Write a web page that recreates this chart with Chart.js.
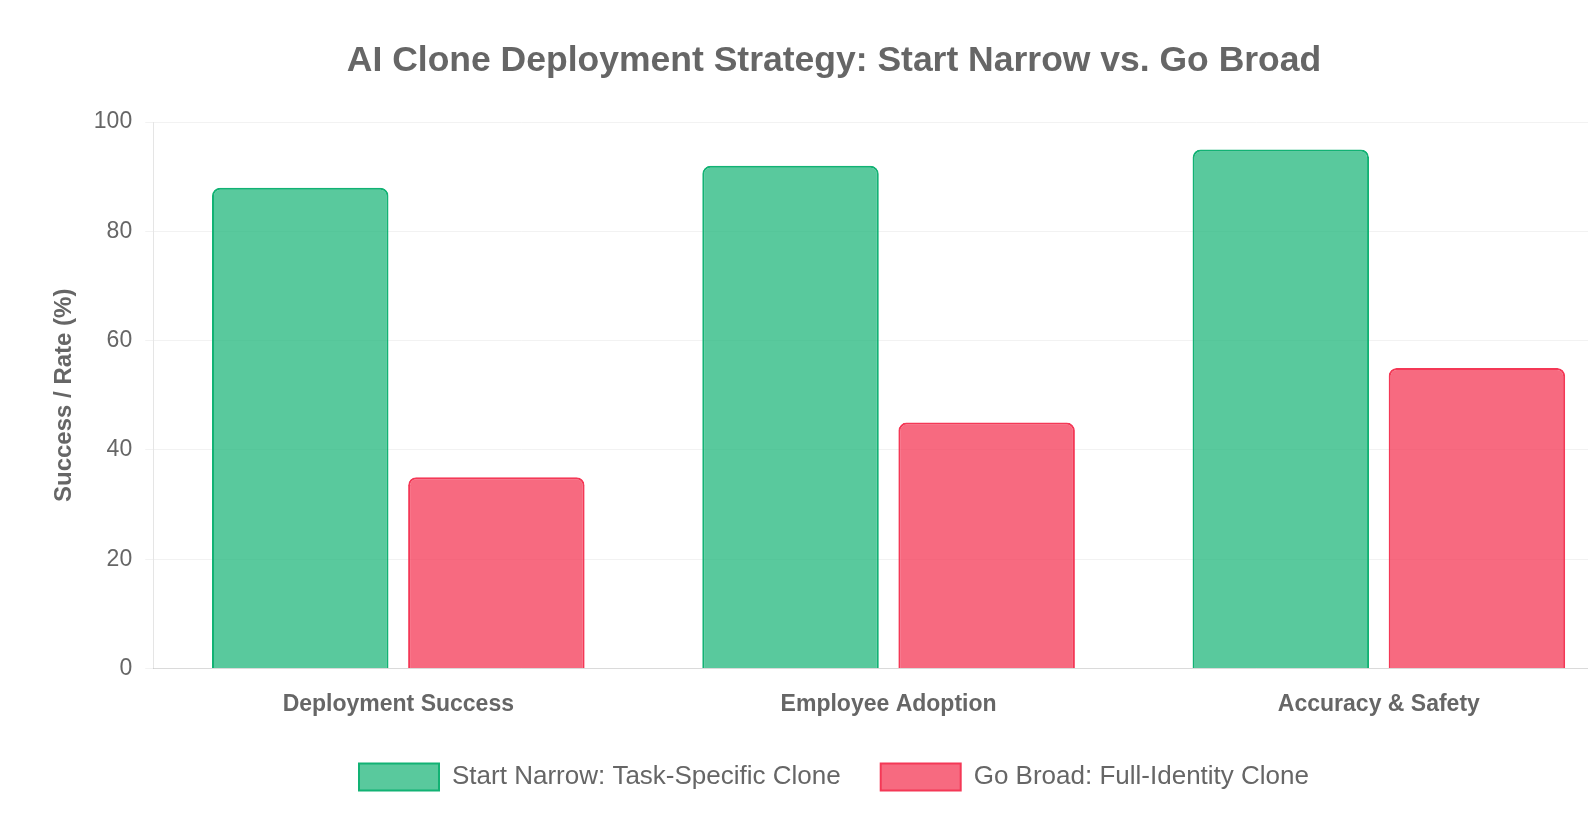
<!DOCTYPE html>
<html>
<head>
<meta charset="utf-8">
<script src="https://cdn.jsdelivr.net/npm/chart.js@4.4.1/dist/chart.umd.min.js"></script>
<style>
  html, body { margin: 0; padding: 0; background: #ffffff; overflow: hidden; }
  #wrap { position: relative; width: 1644px; height: 816px; }
</style>
</head>
<body>
<div id="wrap"><canvas id="c"></canvas></div>
<script>
const categories = ["Deployment Success", "Employee Adoption", "Accuracy & Safety"];
const narrowValues = [88, 92, 95];
const broadValues = [35, 45, 55];
const seriesNames = ["Start Narrow: Task-Specific Clone", "Go Broad: Full-Identity Clone"];
const chartTitle = "AI Clone Deployment Strategy: Start Narrow vs. Go Broad";
const yAxisTitle = "Success / Rate (%)";

const FONT = "'Liberation Sans', Arial, Helvetica, sans-serif";
Chart.defaults.font.family = FONT;
Chart.defaults.color = "#666666";

new Chart(document.getElementById("c"), {
  type: "bar",
  data: {
    labels: categories,
    datasets: [
      {
        label: seriesNames[0],
        data: narrowValues,
        backgroundColor: "rgba(18, 178, 116, 0.7)",
        borderColor: "rgba(18, 178, 116, 1)",
        borderWidth: 2,
        borderRadius: 8
      },
      {
        label: seriesNames[1],
        data: broadValues,
        backgroundColor: "rgba(244, 56, 86, 0.75)",
        borderColor: "rgba(244, 56, 86, 1)",
        borderWidth: 2,
        borderRadius: 8
      }
    ]
  },
  options: {
    responsive: true,
    maintainAspectRatio: false,
    animation: false,
    layout: { padding: { left: 44, right: 20, top: 20, bottom: 15.5 } },
    plugins: {
      title: {
        display: true,
        text: chartTitle,
        color: "#666666",
        font: { size: 35.5, weight: "bold", family: FONT },
        padding: { top: 20, bottom: 39.5 }
      },
      legend: {
        position: "bottom",
        labels: {
          color: "#666666",
          font: { size: 26, family: FONT },
          boxWidth: 80,
          boxHeight: 27,
          padding: 40
        }
      },
      tooltip: { enabled: false }
    },
    scales: {
      x: {
        grid: { display: false },
        ticks: { color: "#666666", font: { size: 23, weight: "bold", family: FONT }, padding: 14 },
        afterFit: (scale) => { scale.height = 55; }
      },
      y: {
        min: 0,
        max: 100,
        ticks: { stepSize: 20, color: "#666666", font: { size: 23, family: FONT }, padding: 13 },
        grid: { color: "rgba(0,0,0,0.05)" },
        title: {
          display: true,
          text: yAxisTitle,
          color: "#666666",
          font: { size: 24, weight: "bold", family: FONT },
          padding: { top: 6, bottom: 2 }
        }
      }
    }
  }
});
</script>
</body>
</html>
